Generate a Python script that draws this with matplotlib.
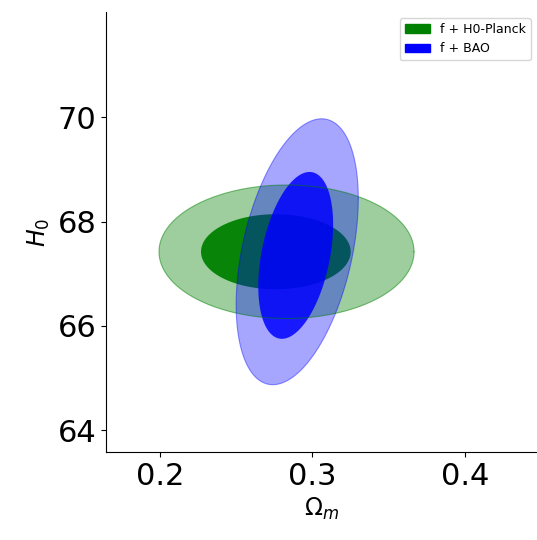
import numpy as np
import matplotlib.pyplot as plt
from matplotlib.patches import Patch

# contour parameters: centre x, centre y, half-width, half-height, correlation
green_outer = (0.283, 67.42, 0.0835, 1.28, 0.0)
green_inner = (0.276, 67.42, 0.049, 0.72, 0.0)
blue_outer = (0.290, 67.42, 0.040, 2.55, 0.40)
blue_inner = (0.289, 67.35, 0.0245, 1.60, 0.37)

x_ticks = [0.2, 0.3, 0.4]
y_ticks = [64, 66, 68, 70]


def contour(cx, cy, sx, sy, rho, n=300):
    t = np.linspace(0, 2 * np.pi, n)
    x = cx + sx * np.cos(t)
    y = cy + sy * (rho * np.cos(t) + np.sqrt(1 - rho**2) * np.sin(t))
    return x, y


fig = plt.figure(figsize=(5.37, 5.4), dpi=100)
ax = fig.add_axes([0.198, 0.163, 0.802, 0.815])

x, y = contour(*green_outer)
ax.fill(x, y, color='green', alpha=0.38, lw=0)
ax.plot(x, y, color='green', alpha=0.5, lw=0.8)
x, y = contour(*green_inner)
ax.fill(x, y, color='green', alpha=0.95, lw=0)

x, y = contour(*blue_outer)
ax.fill(x, y, color='blue', alpha=0.35, lw=0)
ax.plot(x, y, color='blue', alpha=0.4, lw=0.8)
x, y = contour(*blue_inner)
ax.fill(x, y, color='blue', alpha=0.85, lw=0)

ax.set_xlim(0.165, 0.447)
ax.set_ylim(63.58, 72.02)
ax.set_xticks(x_ticks)
ax.set_yticks(y_ticks)
ax.tick_params(labelsize=22)
ax.set_xlabel(r'$\Omega_m$', fontsize=17)
ax.set_ylabel(r'$H_0$', fontsize=17)
ax.spines['top'].set_visible(False)
ax.spines['right'].set_visible(False)

ax.legend(handles=[Patch(color='green', label='f + H0-Planck'),
                   Patch(color='blue', label='f + BAO')],
          loc='upper right', fontsize=9)

fig.savefig('out.png')
